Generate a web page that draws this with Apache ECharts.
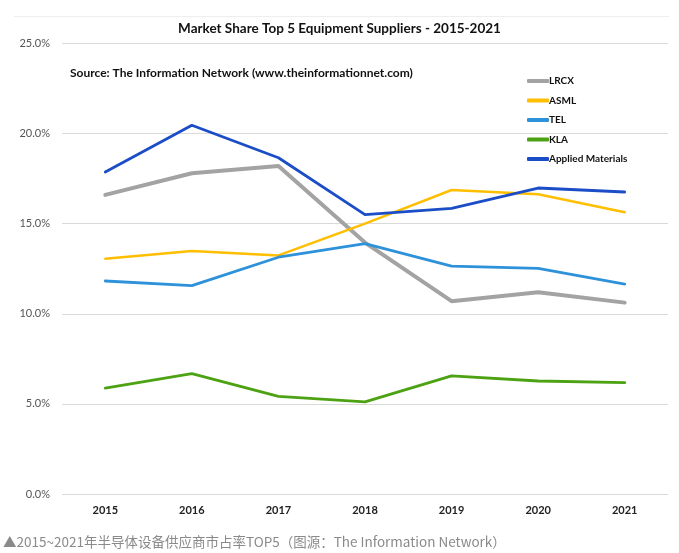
<!DOCTYPE html>
<html>
<head>
<meta charset="utf-8">
<script src="https://cdn.jsdelivr.net/npm/echarts@6/dist/echarts.min.js"></script>
<style>
html,body{margin:0;padding:0;background:#fff;}
#c{width:679px;height:553px;}
</style>
</head>
<body>
<div id="c"></div>
<script>
const years = ['2015','2016','2017','2018','2019','2020','2021'];
const lrcx = [16.6, 17.8, 18.2, 13.95, 10.7, 11.2, 10.62];
const asml = [13.06, 13.48, 13.24, 15.0, 16.87, 16.63, 15.63];
const tel = [11.82, 11.56, 13.14, 13.89, 12.65, 12.52, 11.65];
const kla = [5.88, 6.68, 5.42, 5.11, 6.56, 6.27, 6.18];
const amat = [17.87, 20.46, 18.66, 15.5, 15.85, 16.98, 16.76];
const yTicks = [0, 5, 10, 15, 20, 25];

const seriesDefs = [
  {name:'LRCX', data:lrcx, color:'#A3A3A3', width:4},
  {name:'ASML', data:asml, color:'#FFBE00', width:2.5},
  {name:'TEL', data:tel, color:'#2E92DA', width:2.8},
  {name:'KLA', data:kla, color:'#4DA214', width:2.8},
  {name:'Applied Materials', data:amat, color:'#1B4DC7', width:2.8}
];

const chart = echarts.init(document.getElementById('c'));
const FONT = 'Lato';
chart.setOption({
  animation:false,
  backgroundColor:'#fff',
  title:{
    text:'Market Share Top 5 Equipment Suppliers - 2015-2021',
    left:'center', top:17,
    textStyle:{fontFamily:FONT, fontWeight:'bold', fontSize:13.5, color:'#111'}
  },
  graphic:[
    {type:'rect', shape:{x:14,y:16,width:655,height:1}, style:{fill:'#eeeeee'}},
    {type:'text', left:70, top:67, style:{text:'Source: The Information Network (www.theinformationnet.com)', font:'bold 12px Lato', fill:'#111'}},
    {type:'text', left:3, top:535, style:{text:'▲2015~2021年半导体设备供应商市占率TOP5（图源：The Information Network）', font:'13.5px "Noto Sans CJK SC"', fill:'#8a8a8a'}}
  ],
  legend:{
    orient:'vertical', left:522, top:71,
    itemWidth:22, itemHeight:4, itemGap:9.5,
    icon:'roundRect',
    textStyle:{fontFamily:FONT, fontWeight:'bold', fontSize:10, color:'#111', padding:[0,0,0,-5]},
    data:seriesDefs.map(s=>s.name)
  },
  grid:{left:62, right:11, top:43.5, bottom:59},
  xAxis:{
    type:'category', data:years, boundaryGap:true,
    axisLine:{show:false}, axisTick:{show:false},
    axisLabel:{fontFamily:FONT, fontWeight:'bold', fontSize:11, color:'#222', margin:11}
  },
  yAxis:{
    type:'value', min:yTicks[0], max:yTicks[yTicks.length-1], interval:5,
    axisLine:{show:false}, axisTick:{show:false},
    axisLabel:{fontFamily:FONT, fontSize:11, color:'#555', margin:12, formatter:v=>v.toFixed(1)+'%'},
    splitLine:{lineStyle:{color:'#d9d9d9', width:1}}
  },
  series:seriesDefs.map(s=>({
    name:s.name, type:'line', data:s.data, symbol:'none',
    itemStyle:{color:s.color},
    lineStyle:{color:s.color, width:s.width, cap:'round', join:'round'}
  }))
});
</script>
</body>
</html>
